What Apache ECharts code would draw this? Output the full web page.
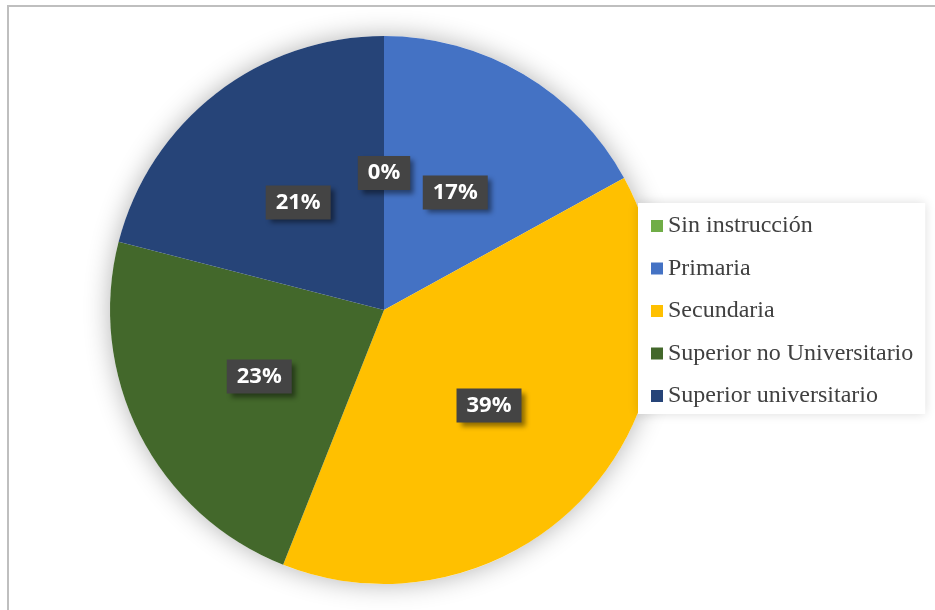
<!DOCTYPE html>
<html>
<head>
<meta charset="utf-8">
<script src="https://cdn.jsdelivr.net/npm/echarts@6/dist/echarts.min.js"></script>
<style>
  html, body { margin: 0; padding: 0; background: #ffffff; }
  #chart { width: 935px; height: 610px; }
</style>
</head>
<body>
<div id="chart"></div>
<script>
// Nivel de instrucción (porcentaje)
const categories = ['Sin instrucción', 'Primaria', 'Secundaria', 'Superior no Universitario', 'Superior universitario'];
const values = [0, 17, 39, 23, 21];
const colors = ['#70AD47', '#4472C4', '#FFC000', '#43682B', '#264478'];

const chart = echarts.init(document.getElementById('chart'), null, { renderer: 'canvas' });

const pieData = categories.map((name, i) => ({
  name: name,
  value: values[i],
  itemStyle: { color: colors[i] }
}));

chart.setOption({
  backgroundColor: '#ffffff',
  animation: false,
  graphic: [{
    type: 'rect',
    z: -10,
    shape: { x: 8, y: 6, width: 1000, height: 1000 },
    style: { fill: null, stroke: '#bfbfbf', lineWidth: 2 }
  }],
  legend: {
    data: categories,
    orient: 'vertical',
    left: 638,
    top: 203,
    padding: [11, 12, 6, 13],
    backgroundColor: '#ffffff',
    shadowBlur: 10,
    shadowColor: 'rgba(0,0,0,0.14)',
    icon: 'rect',
    itemWidth: 12,
    itemHeight: 12,
    itemGap: 18.5,
    textStyle: {
      fontFamily: '"Liberation Serif", "Times New Roman", serif',
      fontSize: 24,
      lineHeight: 22,
      color: '#404040'
    }
  },
  series: [
    {
      // soft halo under the disc
      type: 'pie',
      silent: true,
      z: 1,
      center: [384, 310],
      radius: 274,
      label: { show: false },
      labelLine: { show: false },
      itemStyle: { color: '#ffffff', shadowBlur: 26, shadowColor: 'rgba(0,0,0,0.3)' },
      data: [{ name: '_halo', value: 1 }]
    },
    {
      type: 'pie',
      z: 2,
      center: [384, 310],
      radius: 274,
      startAngle: 90,
      clockwise: true,
      minShowLabelAngle: 0,
      data: pieData,
      label: {
        show: true,
        position: 'inside',
        offset: [0, 3],
        formatter: p => p.value + '%',
        fontFamily: '"Open Sans", "DejaVu Sans", sans-serif',
        fontWeight: 'bold',
        fontSize: 22,
        lineHeight: 25,
        color: '#ffffff',
        backgroundColor: '#444444',
        padding: [5, 10, 4, 10],
        shadowColor: 'rgba(0,0,0,0.45)',
        shadowBlur: 5,
        shadowOffsetX: 4,
        shadowOffsetY: 4
      },
      labelLine: { show: false },
      emphasis: { disabled: true }
    }
  ]
});
</script>
</body>
</html>
